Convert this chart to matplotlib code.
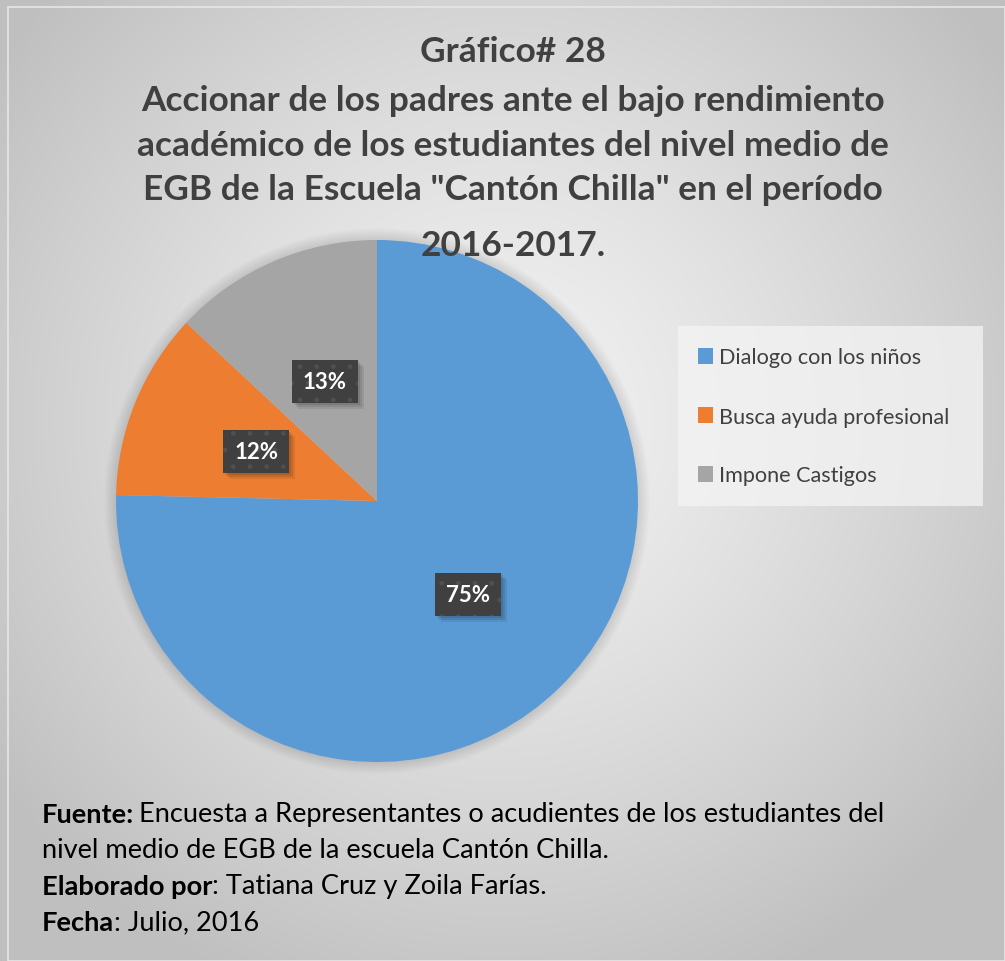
import numpy as np
import matplotlib
matplotlib.use("Agg")
import matplotlib.pyplot as plt
from matplotlib.patches import Rectangle, Circle

# datos del grafico (conteo de respuestas)
categorias = ["Dialogo con los niños", "Busca ayuda profesional", "Impone Castigos"]
respuestas = [52, 8, 9]
colores = ["#5B9BD5", "#ED7D31", "#A5A5A5"]

titulo = ["Gráfico# 28",
          "Accionar de los padres ante el bajo rendimiento",
          "académico de los estudiantes del nivel medio de",
          "EGB de la Escuela \"Cantón Chilla\" en el período",
          "2016-2017."]
titulo_y = [52, 101, 146, 190, 246]

pie_lineas = [
    ("Fuente:", "Encuesta a Representantes o acudientes de los estudiantes del"),
    ("", "nivel medio de EGB de la escuela Cantón Chilla."),
    ("Elaborado por", ": Tatiana Cruz y Zoila Farías."),
    ("Fecha", ": Julio, 2016"),
]

plt.rcParams["font.family"] = ["Lato", "DejaVu Sans"]
plt.rcParams["hatch.color"] = "#575757"
plt.rcParams["hatch.linewidth"] = 1.0

W, H = 1005, 962
fig = plt.figure(figsize=(W / 100, H / 100), dpi=100)

# fondo con degradado radial
bg = fig.add_axes([0, 0, 1, 1], zorder=-10)
yy, xx = np.mgrid[0:H, 0:W]
d = np.sqrt(((xx - 500) / 620.0) ** 2 + ((yy - 420) / 620.0) ** 2)
d = np.clip(d, 0, 1)
val = 0.95 - 0.20 * d ** 1.3
bg.imshow(np.dstack([val, val, val]), extent=[0, W, H, 0], aspect="auto")
bg.set_xlim(0, W)
bg.set_ylim(H, 0)
bg.axis("off")
bg.add_patch(Rectangle((8, 8), W - 8, H - 8, fill=False, ec="#e6e6e6", lw=1.2))

# pastel
cx, cy, r = 377, 502, 261
ax = fig.add_axes([(cx - r) / W, (H - cy - r) / H, 2 * r / W, 2 * r / H])
ax.axis("off")

# sombra suave del pastel
for k in range(10):
    ax.add_patch(Circle((0, 0), 1.0 + 0.005 * k, fc="black", ec="none",
                        alpha=0.012, zorder=0, clip_on=False))

wedges, _, autotexts = ax.pie(respuestas, colors=colores, startangle=90,
                              counterclock=False, radius=1.0,
                              autopct="%.0f%%", pctdistance=0.5,
                              wedgeprops=dict(linewidth=0),
                              textprops=dict(color="white", fontsize=16,
                                             fontweight="bold"))
ax.set_xlim(-1, 1)
ax.set_ylim(-1, 1)

for t in autotexts:
    t.set_zorder(5)
    t.set_bbox(dict(boxstyle="square,pad=0.5", fc="#404040", ec="#505050",
                    lw=0, hatch="."))

# leyenda
fig.patches.append(Rectangle((678 / W, 1 - 507 / H), 305 / W, 180 / H,
                             transform=fig.transFigure, fc="#f4f4f4", ec="none",
                             alpha=0.75, zorder=1))
leg = fig.legend(wedges, categorias, loc="upper left",
                 bbox_to_anchor=(678 / W, 1 - 329 / H), frameon=False,
                 fontsize=15.6, labelcolor="#404040", handlelength=0.7,
                 handleheight=0.7, handletextpad=0.3, labelspacing=1.8)

# titulo
for linea, yl in zip(titulo, titulo_y):
    fig.text(513 / W, 1 - yl / H, linea, ha="center", va="center",
             fontsize=25.4, fontweight="bold", color="#404040")

fig.canvas.draw()
rend = fig.canvas.get_renderer()

# sombra difusa de las etiquetas (bajo la caja, sobre el pastel)
inv = ax.transData.inverted()
for t in autotexts:
    bb = t.get_bbox_patch().get_window_extent(renderer=rend)
    for k, a in enumerate([0.10, 0.09, 0.08]):
        off = 2 + 2 * k
        (x0, y0), (x1, y1) = inv.transform([(bb.x0 + off, bb.y0 - off),
                                            (bb.x1 + off, bb.y1 - off)])
        ax.add_patch(Rectangle((x0, y0), x1 - x0, y1 - y0, fc="black",
                               ec="none", alpha=a, zorder=3))

# pie de pagina con partes en negrita
ypie = 815
for i, (neg, norm) in enumerate(pie_lineas):
    yp = 1 - (ypie + i * 36) / H
    x = 42 / W
    if neg:
        tb = fig.text(x, yp, neg, ha="left", va="center", fontsize=19.6,
                      fontweight="bold", color="black")
        bb = tb.get_window_extent(renderer=rend)
        x = (bb.x1 + (5 if norm[0] != ":" else 0)) / W
    fig.text(x, yp, norm, ha="left", va="center", fontsize=19.6, color="black")

fig.savefig("out.png", dpi=100)
